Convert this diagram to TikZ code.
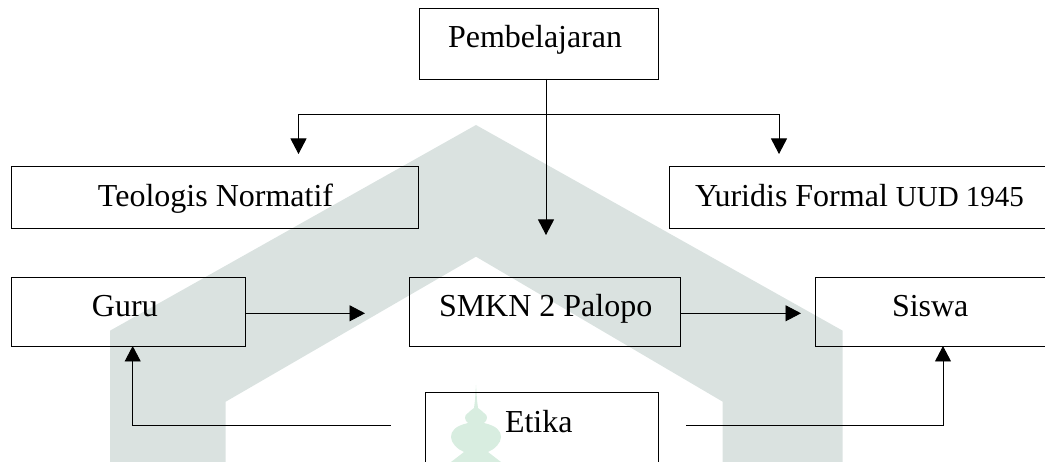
\documentclass[tikz,border=0pt]{standalone}
\usepackage{fontspec}
\setmainfont{Liberation Serif}
\usetikzlibrary{arrows.meta}
\definecolor{wmgrey}{HTML}{DAE2E0}
\definecolor{wmgreen}{HTML}{D8EDE0}
\newcommand{\bxt}[3]{\makebox[#1pt][l]{\hspace*{#2pt}#3}}
\tikzset{
  bx/.style={draw=black, line width=0.9pt, anchor=north west, inner sep=0pt, outer sep=0pt,
    font=\fontsize{32}{36}\selectfont, text=black},
  conn/.style={draw=black, line width=0.9pt, -{Triangle[length=15.5pt,width=16pt]}}
}
\begin{document}
\begin{tikzpicture}[x=1pt,y=-1pt]
\useasboundingbox (0,0) rectangle (1045,462);
% watermark
\fill[wmgrey] (476,125) -- (842.7,330.7) -- (842.7,462) -- (722.7,462) -- (722.7,401.7)
  -- (476,256.7) -- (225.7,401.7) -- (225.7,462) -- (110,462) -- (110,330.7) -- cycle;
\fill[wmgreen] (476,385) -- (477,400) -- (478,408) .. controls (482,411) and (483,412) .. (484,413)
  .. controls (488,415) and (488,420) .. (484,423)
  .. controls (497,426) and (501,431) .. (501,437)
  .. controls (501,443) and (495,449) .. (488,452)
  -- (501,462) -- (451,462) -- (464,452)
  .. controls (457,449) and (451,443) .. (451,437)
  .. controls (451,431) and (455,426) .. (468,423)
  .. controls (464,420) and (464,415) .. (468,413)
  .. controls (469,412) and (470,411) .. (474,408) -- (475,400) -- cycle;
% boxes
\node[bx, text height=40pt, text depth=31pt] (pem) at (419,8) {\bxt{239.7}{29}{Pembelajaran}};
\node[bx, text height=41pt, text depth=21pt] (teo) at (11,166) {\bxt{407.5}{87}{Teologis Normatif}};
\node[bx, text height=41pt, text depth=21pt] (yur) at (669,166) {\bxt{400}{26}{Yuridis Formal {\fontsize{29}{32}\selectfont UUD 1945}}};
\node[bx, text height=39.5pt, text depth=29.5pt] (guru) at (11,277) {\bxt{234}{81}{Guru}};
\node[bx, text height=39.5pt, text depth=29.5pt] (smk) at (409.5,277) {\bxt{271.2}{29.5}{SMKN 2 Palopo}};
\node[bx, text height=39.5pt, text depth=29.5pt] (sis) at (815.7,277) {\bxt{250}{76.3}{Siswa}};
\node[bx, text height=39.5pt, text depth=50pt] (eti) at (425,392.7) {\bxt{233.7}{80}{Etika}};
% connector end points
\coordinate (split) at (546,114);
\coordinate (tipC) at (546,235);
\coordinate (tipL) at (298.5,154);
\coordinate (tipR) at (779,154);
\coordinate (tipGS) at (365,313.3);
\coordinate (tipSS) at (801,313.3);
\coordinate (startG) at (390.7,425.7);
\coordinate (elbowG) at (132.7,425.7);
\coordinate (startS) at (686,425.7);
\coordinate (elbowS) at (943,425.7);
% connectors
\draw[conn] (pem.south -| tipC) -- (tipC);
\draw[conn] (split) -- (split -| tipL) -- (tipL);
\draw[conn] (split) -- (split -| tipR) -- (tipR);
\draw[conn] (guru.east |- tipGS) -- (tipGS);
\draw[conn] (smk.east |- tipSS) -- (tipSS);
\draw[conn] (startG) -- (elbowG) -- (elbowG |- guru.south);
\draw[conn] (startS) -- (elbowS) -- (elbowS |- sis.south);
\end{tikzpicture}
\end{document}
